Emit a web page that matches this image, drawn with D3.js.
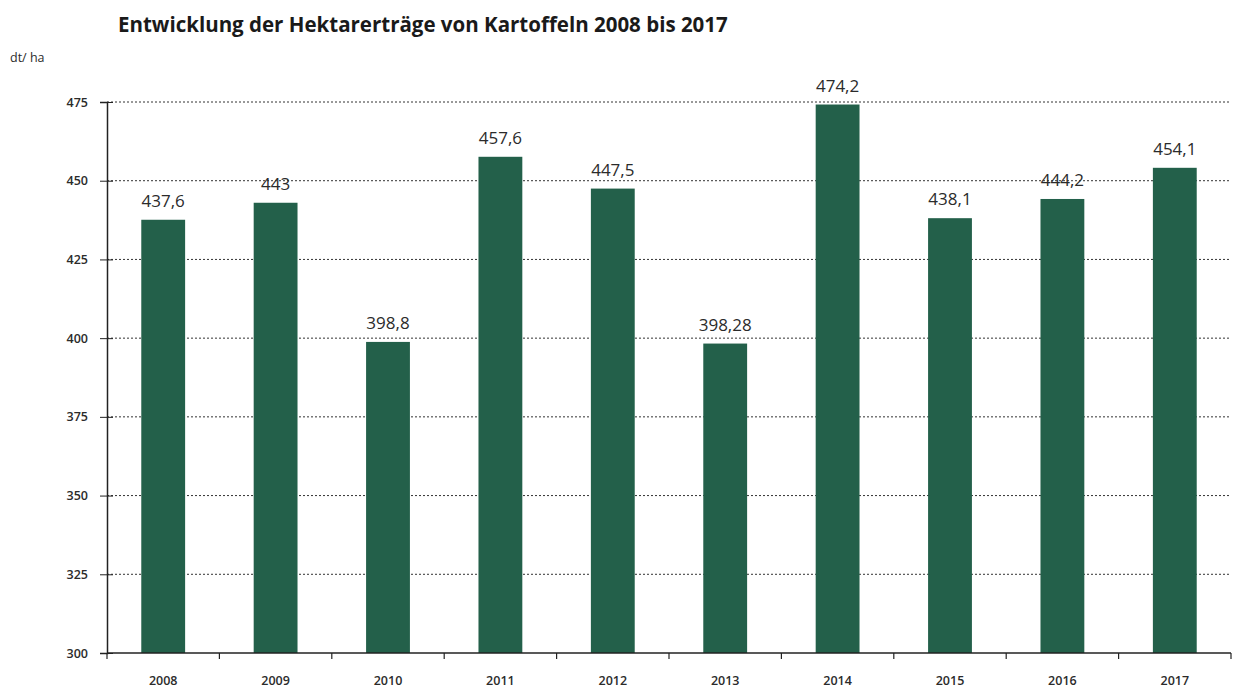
<!DOCTYPE html>
<html>
<head>
  <script src="https://d3js.org/d3.v7.min.js"></script>
  <style>
    body { margin: 0; background: #fff; }
    text { font-family: "Open Sans", "Noto Sans", sans-serif; fill: #2b2b2b; }
  </style>
</head>
<body>
<svg id="chart" width="1237" height="688"></svg>
<script>
const years = ["2008", "2009", "2010", "2011", "2012", "2013", "2014", "2015", "2016", "2017"];
const yields = [437.6, 443, 398.8, 457.6, 447.5, 398.28, 474.2, 438.1, 444.2, 454.1];
const yTicks = [300, 325, 350, 375, 400, 425, 450, 475];

const svg = d3.select("#chart");
const plotLeft = 107, plotRight = 1231, plotTop = 102, plotBottom = 653;

const x = d3.scaleBand().domain(years).range([plotLeft, plotRight]).paddingInner(0.61).paddingOuter(0.305);
const y = d3.scaleLinear().domain([300, 475]).range([plotBottom, plotTop]);

// title and unit
svg.append("text").attr("x", 118).attr("y", 32)
  .style("font-size", "20.5px").style("font-weight", "bold").style("fill", "#1a1a1a")
  .text("Entwicklung der Hektarerträge von Kartoffeln 2008 bis 2017");
svg.append("text").attr("x", 10).attr("y", 62)
  .style("font-size", "12.5px").text("dt/ ha");

// gridlines (dashed)
svg.append("g").selectAll("line")
  .data(yTicks.filter(d => d > 300))
  .enter().append("line")
  .attr("x1", plotLeft).attr("x2", plotRight)
  .attr("y1", d => y(d)).attr("y2", d => y(d))
  .attr("stroke", "#333").attr("stroke-width", 1).attr("stroke-dasharray", "2,2");

// bars
svg.append("g").selectAll("rect")
  .data(years)
  .enter().append("rect")
  .attr("x", d => x(d))
  .attr("width", x.bandwidth())
  .attr("y", (d, i) => y(yields[i]))
  .attr("height", (d, i) => plotBottom - y(yields[i]))
  .attr("fill", "#23604a");

// value labels
svg.append("g").selectAll("text")
  .data(years)
  .enter().append("text")
  .attr("x", d => x(d) + x.bandwidth() / 2)
  .attr("y", (d, i) => y(yields[i]) - 13)
  .attr("text-anchor", "middle")
  .style("font-size", "17px")
  .text((d, i) => String(yields[i]).replace(".", ","));

// y axis
const yAxis = d3.axisLeft(y).tickValues(yTicks).tickSize(7).tickPadding(12);
const yg = svg.append("g").attr("transform", `translate(${plotLeft},0)`).call(yAxis);
yg.select(".domain").attr("stroke", "#222").attr("stroke-width", 1.5);
yg.selectAll(".tick line").attr("stroke", "#222").attr("x2", 6).attr("x1", -7);
yg.selectAll(".tick text").style("font-size", "12.5px").style("font-weight", "600")
  .style("font-family", "'Open Sans', sans-serif").attr("fill", "#2b2b2b");

// x axis with boundary ticks
const xg = svg.append("g").attr("transform", `translate(0,${plotBottom})`);
xg.append("line").attr("x1", plotLeft).attr("x2", plotRight).attr("y1", 0).attr("y2", 0)
  .attr("stroke", "#222").attr("stroke-width", 1.5);
xg.selectAll(".bt")
  .data(d3.range(years.length + 1))
  .enter().append("line")
  .attr("x1", i => plotLeft + i * (plotRight - plotLeft) / years.length)
  .attr("x2", i => plotLeft + i * (plotRight - plotLeft) / years.length)
  .attr("y1", 0).attr("y2", 6)
  .attr("stroke", "#222").attr("stroke-width", 1.2);
xg.selectAll(".lbl")
  .data(years)
  .enter().append("text")
  .attr("x", d => x(d) + x.bandwidth() / 2)
  .attr("y", 32)
  .attr("text-anchor", "middle")
  .style("font-size", "12.5px").style("font-weight", "600")
  .text(d => d);
</script>
</body>
</html>
